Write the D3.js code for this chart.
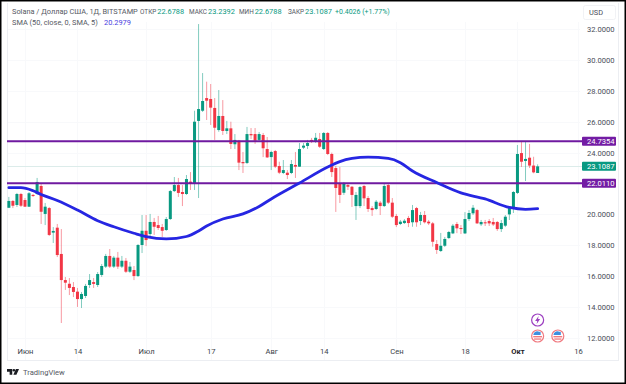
<!DOCTYPE html>
<html>
<head>
<meta charset="utf-8">
<script src="https://cdn.jsdelivr.net/npm/d3@7"></script>
<style>
  html, body { margin: 0; padding: 0; background: #000; }
  svg { display: block; }
  text { font-family: Roboto, "Noto Sans", sans-serif; }
</style>
</head>
<body>
<svg id="chart" width="626" height="384"></svg>
<script>
// дневные свечи SOL/USD, первая свеча 28 мая
const firstDay = "2023-05-28";
const opens = [
  20.43,20.87,20.61,21.32,20.93,20.50,21.26,21.32,21.84,20.03,20.41,18.82,19.14,17.44,15.75,15.51,15.30,15.00,14.52,14.72,
  15.43,15.62,15.43,16.08,16.62,17.31,16.62,17.20,16.62,17.00,16.29,16.40,16.01,18.02,18.94,18.73,19.51,19.31,19.18,18.99,
  19.70,21.51,21.90,21.45,21.32,22.12,22.03,26.05,26.71,27.53,27.47,26.89,25.46,26.37,25.40,25.57,24.54,24.77,23.39,23.33,
  25.20,25.20,24.82,25.14,24.23,23.71,24.10,23.13,22.68,22.70,22.68,23.20,23.09,24.32,24.43,24.82,24.71,24.88,24.23,25.27,
  23.91,23.00,21.97,21.40,21.90,21.79,20.54,20.54,21.84,21.06,20.41,20.35,20.76,20.54,21.90,20.76,19.90,19.38,19.44,19.77,
  19.49,20.41,19.57,19.96,19.53,19.42,18.08,17.63,17.97,18.47,18.77,19.38,19.12,18.77,19.70,20.07,20.28,19.36,19.49,19.57,
  19.51,19.51,19.05,19.27,20.00,20.35,21.39,23.97,23.46,23.67,23.16,22.6788
];
const highs = [
  21.13,20.93,21.39,21.39,21.06,21.45,21.32,22.36,21.97,20.74,20.48,19.18,19.38,19.05,15.95,15.88,15.62,15.24,14.98,15.50,
  16.14,15.88,16.27,16.79,17.44,17.76,17.31,17.57,17.31,17.18,16.92,16.66,18.08,19.96,19.96,20.03,19.77,19.90,19.38,19.83,
  21.58,22.42,22.36,21.90,22.55,22.74,26.71,32.32,29.15,28.59,28.44,27.53,28.05,27.40,26.05,26.00,25.20,24.82,24.04,25.66,
  25.59,25.59,25.33,25.27,25.01,24.12,24.17,23.41,23.52,22.87,23.52,24.04,24.62,24.62,24.82,24.95,25.27,25.27,25.33,25.33,
  24.00,23.15,23.07,22.10,22.03,21.84,21.45,21.84,21.90,21.19,20.54,20.93,20.87,21.97,21.97,21.06,20.03,19.64,19.70,19.90,
  20.61,20.48,20.16,20.22,19.64,19.51,18.34,18.80,18.54,18.93,19.38,19.51,19.31,20.15,20.28,20.61,20.35,19.64,19.64,19.70,
  19.77,19.57,19.64,19.96,20.54,21.51,24.49,24.71,24.71,24.56,23.73,23.2392
];
const lows = [
  20.41,20.41,20.48,20.48,20.48,20.48,21.13,21.26,19.38,19.31,18.60,18.15,17.24,12.97,15.11,14.78,14.65,14.01,13.94,14.59,
  15.24,15.24,15.30,15.95,16.53,16.53,16.53,16.47,16.53,16.21,16.21,15.75,15.95,17.50,17.95,18.54,18.67,18.99,18.54,18.93,
  19.64,21.45,21.13,20.54,21.26,21.58,21.58,21.06,26.63,26.11,25.79,24.82,25.35,25.14,25.20,24.23,24.23,22.87,22.68,23.26,
  24.88,24.56,24.75,23.71,23.65,22.87,23.00,22.61,22.61,22.29,22.61,22.36,23.07,24.23,24.23,24.62,24.62,24.30,24.17,23.84,
  22.42,20.16,20.74,21.26,21.58,20.48,19.64,20.41,20.54,20.16,19.90,20.28,19.96,20.48,20.67,19.77,19.18,19.31,19.38,19.18,
  19.20,19.20,19.31,19.41,19.31,17.91,17.44,17.57,17.89,18.41,18.73,18.79,18.73,18.73,19.57,19.96,19.38,19.25,19.25,19.25,
  19.25,18.93,18.86,19.18,19.64,20.09,21.32,23.07,22.16,23.00,22.66,22.6788
];
const closes = [
  20.87,20.56,21.32,20.56,20.50,21.37,21.19,22.10,20.17,20.50,18.67,18.93,17.37,15.75,15.58,15.24,14.98,14.52,14.85,15.37,
  15.75,15.50,16.14,16.66,17.31,16.62,17.20,16.62,17.00,16.29,16.62,16.01,18.02,18.94,18.34,19.51,19.20,19.12,18.94,19.70,
  21.51,21.90,21.39,21.32,22.29,21.97,26.00,26.82,27.34,27.36,26.91,25.61,26.37,25.40,25.57,24.56,24.82,23.35,23.31,25.20,
  25.12,24.77,25.20,24.28,23.69,24.04,23.09,22.70,22.87,22.55,23.26,23.09,24.23,24.45,24.62,24.71,24.96,24.38,25.27,23.91,
  22.74,21.71,21.26,21.97,21.79,21.26,21.26,21.77,21.04,20.35,20.28,20.82,20.54,21.84,20.76,19.85,19.31,19.53,19.59,19.44,
  20.28,19.49,19.96,19.49,19.42,18.23,17.70,17.97,18.41,18.86,19.27,19.10,19.05,19.70,20.09,20.43,19.42,19.51,19.42,19.42,
  19.35,19.05,19.44,19.85,20.41,21.45,23.91,23.41,23.59,23.16,22.72,23.1087
];

const smaIndex = [0,3,6,8,12,17,22,26,31,34,39,44,47,49,53,58,62,65,72,79,82,85,89,94,97,100,106,112,118,124,128,131];
const smaValues = [21.73,21.73,21.53,21.29,20.90,20.28,19.59,19.20,18.78,18.56,18.41,18.57,18.93,19.25,19.70,20.03,20.51,21.00,22.03,23.07,23.42,23.62,23.71,23.62,23.35,22.81,22.06,21.39,21.00,20.45,20.33,20.37];

const priceTicks = [12,14,16,18,20,24,26,28,30,32];
const dateTicks = ["2023-06-01","2023-06-14","2023-07-01","2023-07-17","2023-08-01","2023-08-14","2023-09-01","2023-09-18","2023-10-01","2023-10-16"];
const dateLabels = ["Июн","14","Июл","17","Авг","14","Сен","18","Окт","16"];
const levels = [24.7354, 22.0110];
const lastClose = 23.1087;

const width = 626, height = 384;
const green = "#089981", red = "#f23645", purple = "#6f1aa0";

const svg = d3.select("#chart");
const parseDay = d3.utcParse("%Y-%m-%d");
const dayOf = (i) => d3.utcDay.offset(parseDay(firstDay), i);

const x = d3.scaleUtc().domain([parseDay("2023-06-01"), parseDay("2023-10-16")]).range([25, 578]);
const y = d3.scaleLinear().domain([12, 32]).range([338, 29]);

// рамка и белая панель
svg.append("rect").attr("x", 1.5).attr("y", 1.5).attr("width", width - 3).attr("height", height - 3).attr("fill", "#fff");

// едва заметная сетка
const grid = svg.append("g").attr("stroke", "#f8f9fb").attr("stroke-width", 1);
priceTicks.forEach((t) => {
  grid.append("line").attr("x1", 7).attr("x2", 580).attr("y1", Math.round(y(t)) + 0.5).attr("y2", Math.round(y(t)) + 0.5);
});
dateTicks.forEach((d) => {
  const px = Math.round(x(parseDay(d))) + 0.5;
  grid.append("line").attr("x1", px).attr("x2", px).attr("y1", 22).attr("y2", 360);
});

// границы области графика
const frame = svg.append("g").attr("stroke", "#eceef2").attr("stroke-width", 1);
frame.append("line").attr("x1", 7.5).attr("x2", 7.5).attr("y1", 3).attr("y2", 361);
frame.append("line").attr("x1", 7).attr("x2", 618).attr("y1", 360.5).attr("y2", 360.5);
frame.append("line").attr("x1", 618.5).attr("x2", 618.5).attr("y1", 3).attr("y2", 361);

// линия последней цены
svg.append("line").attr("x1", 7).attr("x2", 582)
  .attr("y1", Math.round(y(lastClose)) + 0.5).attr("y2", Math.round(y(lastClose)) + 0.5)
  .attr("stroke", "#dcecea").attr("stroke-width", 1);

// свечи
const candles = svg.append("g").selectAll("g").data(opens).join("g")
  .attr("transform", (d, i) => `translate(${x(dayOf(i))},0)`);
candles.append("line")
  .attr("y1", (d, i) => y(highs[i])).attr("y2", (d, i) => y(lows[i]))
  .attr("stroke", (d, i) => closes[i] >= opens[i] ? green : red)
  .attr("stroke-opacity", 0.5).attr("stroke-width", 1);
candles.append("rect")
  .attr("x", -1.5).attr("width", 3)
  .attr("y", (d, i) => y(Math.max(opens[i], closes[i])))
  .attr("height", (d, i) => Math.max(1, Math.abs(y(opens[i]) - y(closes[i]))))
  .attr("fill", (d, i) => closes[i] >= opens[i] ? green : red);

// уровни
svg.append("g").selectAll("line").data(levels).join("line")
  .attr("x1", 7).attr("x2", 582)
  .attr("y1", (d) => y(d)).attr("y2", (d) => y(d))
  .attr("stroke", purple).attr("stroke-width", 2);

// SMA
const smaLine = d3.line().x((d, i) => x(dayOf(smaIndex[i]))).y((d) => y(d)).curve(d3.curveMonotoneX);
svg.append("path").datum(smaValues).attr("d", smaLine)
  .attr("fill", "none").attr("stroke", "#2626e2").attr("stroke-width", 2.8).attr("stroke-linecap", "round");

// шкала цены
const yAxis = d3.axisRight(y).tickValues(priceTicks).tickSize(0).tickPadding(0).tickFormat(d3.format(".4f"));
const yg = svg.append("g").attr("transform", "translate(587,0)").call(yAxis);
yg.select(".domain").remove();
yg.selectAll("text").attr("fill", "#4a4e59").attr("font-size", 7.6).style("font-family", "Roboto");

// шкала дат
const xAxis = d3.axisBottom(x).tickValues(dateTicks.map(parseDay)).tickSize(0).tickPadding(0)
  .tickFormat((d, i) => dateLabels[i]);
const xg = svg.append("g").attr("transform", "translate(0,349)").call(xAxis);
xg.select(".domain").remove();
xg.selectAll("text").attr("fill", "#3b3f4a").attr("font-size", 7.6).style("font-family", "Roboto");
xg.selectAll("text").filter((d, i) => dateLabels[i] === "Окт").attr("font-weight", 700).attr("fill", "#1f2128");

// плашки цен
const tags = levels.map((v) => ({ v, fill: "#731ca4" })).concat([{ v: lastClose, fill: green }]);
const tag = svg.append("g").selectAll("g").data(tags).join("g")
  .attr("transform", (d) => `translate(582,${y(d.v)})`);
tag.append("rect").attr("x", 0).attr("y", -4.5).attr("width", 34).attr("height", 9).attr("rx", 1).attr("fill", (d) => d.fill);
tag.append("text").attr("x", 5).attr("y", 2.8).attr("fill", "#fff").attr("font-size", 7.6)
  .text((d) => d.v.toFixed(4));

// USD
svg.append("rect").attr("x", 583.5).attr("y", 5.5).attr("width", 32).attr("height", 14).attr("rx", 2)
  .attr("fill", "#fff").attr("stroke", "#f1f2f5");
svg.append("text").attr("x", 589).attr("y", 15).attr("fill", "#4a4e59").attr("font-size", 7.4).text("USD");

// легенда
const legend1 = svg.append("text").attr("x", 12).attr("y", 14).attr("font-size", 7.4).attr("fill", "#555963");
legend1.append("tspan").text("Solana / Доллар США, 1Д, BITSTAMP");
[["ОТКР", "22.6788", 140], ["МАКС", "23.2392", 189], ["МИН", "22.6788", 239], ["ЗАКР", "23.1087", 288]].forEach((p) => {
  legend1.append("tspan").attr("x", p[2]).attr("font-size", 6.4).text(p[0]);
  legend1.append("tspan").attr("fill", green).attr("dx", 1).attr("font-size", 7.4).text(p[1]);
});
legend1.append("tspan").attr("x", 335).attr("fill", green).attr("font-size", 7).text("+0.4026 (+1.77%)");
const legend2 = svg.append("text").attr("x", 12).attr("y", 25).attr("font-size", 7.4).attr("fill", "#555963");
legend2.append("tspan").text("SMA (50, close, 0, SMA, 5)");
legend2.append("tspan").attr("x", 104).attr("fill", "#4a40e0").text("20.2979");

// значки событий
const bolt = svg.append("g").attr("transform", `translate(${x(parseDay("2023-10-06"))},320)`);
bolt.append("circle").attr("r", 6).attr("fill", "#fff").attr("stroke", "#9c3fc0").attr("stroke-width", 1.2);
bolt.append("path").attr("d", "M1,-4 L-2.5,1 L-0.4,1 L-1,4 L2.5,-1 L0.4,-1 Z").attr("fill", "#9c3fc0");
[parseDay("2023-10-06"), parseDay("2023-10-11")].forEach((d) => {
  const f = svg.append("g").attr("transform", `translate(${x(d)},336)`);
  f.append("circle").attr("r", 6).attr("fill", "#fff").attr("stroke", "#f07a80").attr("stroke-width", 1.2);
  f.append("path").attr("d", "M-4.4,-1 A4.6,4.6 0 0 1 0.5,-4.6 L3,-4 L3,-1 Z").attr("fill", "#3d8fe0");
  f.append("rect").attr("x", -4.4).attr("y", 0).attr("width", 8.8).attr("height", 1.4).attr("fill", "#f07a80");
  f.append("rect").attr("x", -3.6).attr("y", 2.4).attr("width", 7.2).attr("height", 1.3).attr("fill", "#f07a80");
});

// логотип TradingView
const logo = svg.append("g").attr("transform", "translate(7,369) scale(0.75)").attr("fill", "#1a1c22");
logo.append("path").attr("d", "M0,0 H7 V7.5 H3.5 V3.5 H0 Z");
logo.append("circle").attr("cx", 9.2).attr("cy", 1.7).attr("r", 1.7);
logo.append("path").attr("d", "M8.5,7.5 L11.8,0 H16 L12.6,7.5 Z");
svg.append("text").attr("x", 23).attr("y", 375).attr("font-size", 7.6).attr("fill", "#555963").text("TradingView");
</script>
</body>
</html>
